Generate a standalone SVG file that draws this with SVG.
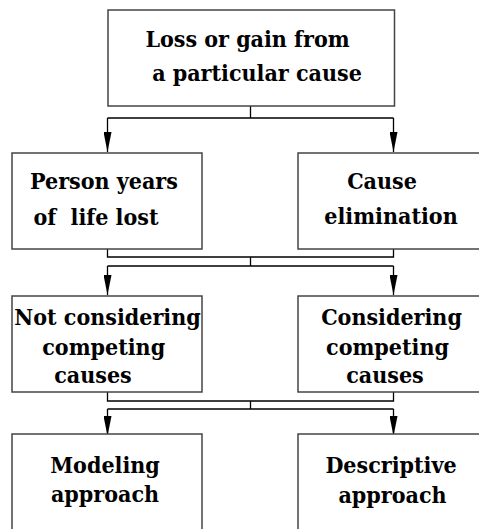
<svg xmlns="http://www.w3.org/2000/svg" width="479" height="529" viewBox="0 0 479 529">
<defs>
<style>
.box{fill:#fff;stroke:#444;stroke-width:1.5}
.ln{fill:none;stroke:#000;stroke-width:1.3}
.t{font-weight:bold;font-size:23px;fill:#000;text-anchor:middle}
</style>
<marker id="ah" viewBox="0 0 20 8" refX="20" refY="4" markerWidth="20" markerHeight="8" markerUnits="userSpaceOnUse" orient="auto">
<path d="M0,0 L20,4 L0,8 Z" fill="#000"/>
</marker>
</defs>
<rect width="479" height="529" fill="#fff"/>
<g id="connectors">
<path class="ln" d="M250.5,106 V118 M107.5,118 H393.5"/>
<path class="ln" d="M107.5,118 V152" marker-end="url(#ah)"/>
<path class="ln" d="M393.5,118 V152" marker-end="url(#ah)"/>
<path class="ln" d="M107.5,249 V257 H393.5 V249 M250.5,257 V266 M107.5,266 H393.5"/>
<path class="ln" d="M107.5,266 V295" marker-end="url(#ah)"/>
<path class="ln" d="M393.5,266 V295" marker-end="url(#ah)"/>
<path class="ln" d="M107.5,392 V401 H393.5 V392 M250.5,401 V409 M107.5,409 H393.5"/>
<path class="ln" d="M107.5,409 V436" marker-end="url(#ah)"/>
<path class="ln" d="M393.5,409 V436" marker-end="url(#ah)"/>
</g>
<g id="n1" font-family="DejaVu Serif Condensed">
<rect class="box" x="108" y="10" width="286.5" height="96"/>
<text class="t" x="247.5" y="47">Loss or gain from</text>
<text class="t" x="257" y="81">a particular cause</text>
</g>
<g id="n2" font-family="DejaVu Serif Condensed">
<rect class="box" x="12" y="153" width="190" height="96"/>
<text class="t" x="104" y="189">Person years</text>
<text class="t" x="96" y="224.5" xml:space="preserve">of  life lost</text>
</g>
<g id="n3" font-family="DejaVu Serif Condensed">
<rect class="box" x="298" y="153" width="190" height="96"/>
<text class="t" x="382" y="188.5">Cause</text>
<text class="t" x="391" y="224">elimination</text>
</g>
<g id="n4" font-family="DejaVu Serif Condensed">
<rect class="box" x="12" y="296" width="190" height="96"/>
<text class="t" x="107.5" y="325">Not considering</text>
<text class="t" x="103.7" y="355">competing</text>
<text class="t" x="93" y="383">causes</text>
</g>
<g id="n5" font-family="DejaVu Serif Condensed">
<rect class="box" x="298" y="296" width="190" height="96"/>
<text class="t" x="391.5" y="325">Considering</text>
<text class="t" x="387.5" y="355">competing</text>
<text class="t" x="385" y="383">causes</text>
</g>
<g id="n6" font-family="DejaVu Serif Condensed">
<rect class="box" x="12" y="434" width="190" height="110"/>
<text class="t" x="105" y="473">Modeling</text>
<text class="t" x="105" y="502">approach</text>
</g>
<g id="n7" font-family="DejaVu Serif Condensed">
<rect class="box" x="298" y="434" width="190" height="110"/>
<text class="t" x="391" y="473">Descriptive</text>
<text class="t" x="392.5" y="502.5">approach</text>
</g>
</svg>
